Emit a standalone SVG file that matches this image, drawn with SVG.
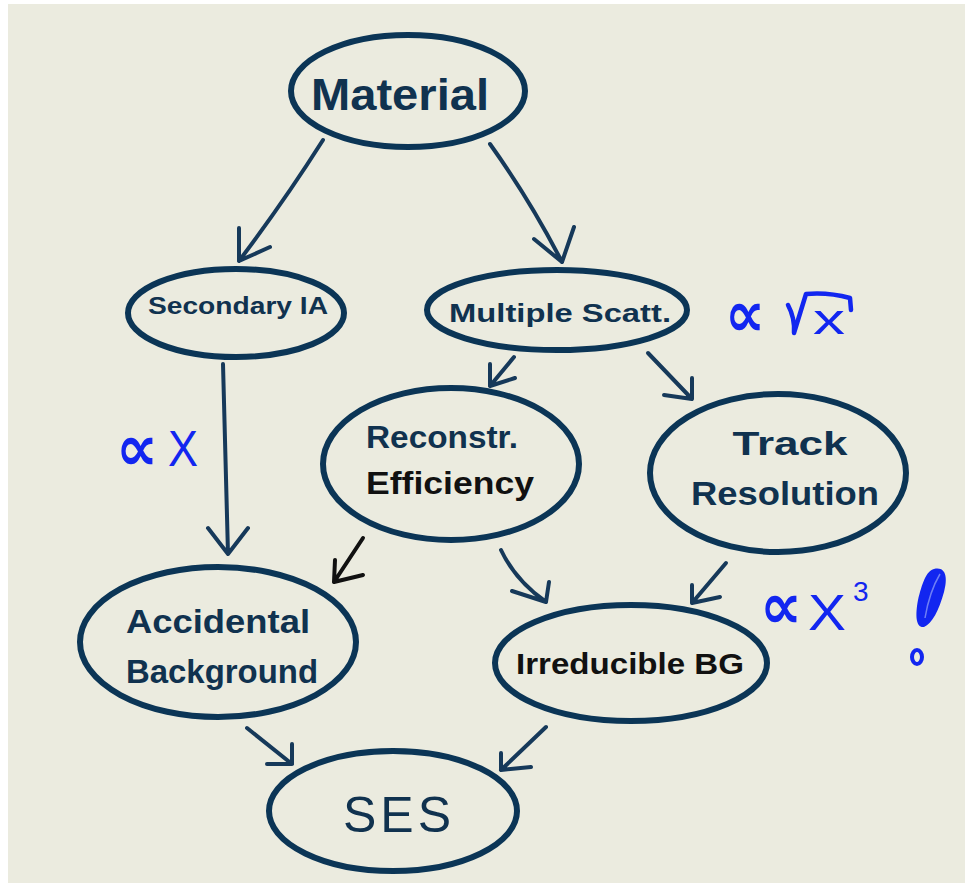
<svg xmlns="http://www.w3.org/2000/svg" width="973" height="891" viewBox="0 0 973 891">
<style>
.node{fill:none;stroke:#0b3556;stroke-width:6}
.lbl{font-family:"Liberation Sans","DejaVu Sans",sans-serif;fill:#10324f;text-anchor:middle;font-weight:bold}
.blk{fill:#111}
.edge{fill:none;stroke:#16395a;stroke-width:4;stroke-linecap:round;stroke-linejoin:round}
.edge.k{stroke:#111}
.note{font-family:"DejaVu Sans","Liberation Sans",sans-serif;fill:#1226f0;font-weight:bold}
.var{font-family:"Liberation Sans","DejaVu Sans",sans-serif;fill:#1226f0;font-weight:normal}
.ink{fill:none;stroke:#1226f0;stroke-width:4.5;stroke-linecap:round;stroke-linejoin:round}
</style>
<rect x="0" y="0" width="973" height="891" fill="#ffffff"/>
<rect x="8" y="4" width="957" height="879" fill="#ebebdf"/>

<g id="connectors">
  <path class="edge" d="M323,140 Q285,200 239,261 M239,228 L239,261 L270,247"/>
  <path class="edge" d="M490,144 Q530,200 562,262 M534,239 L562,262 L574,227"/>
  <path class="edge" d="M223,364 L228,554 M208,528 L228,554 L248,528"/>
  <path class="edge" d="M514,357 L490,386 M490,364 L490,386 L515,378"/>
  <path class="edge" d="M648,353 L692,399 M664,395 L692,399 L692,378"/>
  <path class="edge k" d="M363,538 L334,582 M335,560 L334,582 L363,575"/>
  <path class="edge" d="M501,550 Q515,580 546,602 M512,591 L546,602 L549,582"/>
  <path class="edge" d="M726,563 L692,603 M692,585 L692,603 L720,597"/>
  <path class="edge" d="M247,728 L292,764 M267,764 L292,764 L292,744"/>
  <path class="edge" d="M546,727 L501,770 M501,753 L501,770 L531,767"/>
</g>

<g id="material">
  <ellipse class="node" cx="408" cy="91" rx="117" ry="56"/>
  <text class="lbl" x="400" y="110" font-size="44" textLength="178" lengthAdjust="spacingAndGlyphs">Material</text>
</g>
<g id="secondary">
  <ellipse class="node" cx="236" cy="313" rx="108" ry="44"/>
  <text class="lbl" x="238" y="314" font-size="24" textLength="180" lengthAdjust="spacingAndGlyphs">Secondary IA</text>
</g>
<g id="multiple">
  <ellipse class="node" cx="557" cy="310" rx="130" ry="40"/>
  <text class="lbl" x="560" y="322" font-size="25" textLength="222" lengthAdjust="spacingAndGlyphs">Multiple Scatt.</text>
</g>
<g id="reconstr">
  <ellipse class="node" cx="451" cy="464" rx="128" ry="76"/>
  <text class="lbl" x="442" y="448" font-size="32" textLength="152" lengthAdjust="spacingAndGlyphs">Reconstr.</text>
  <text class="lbl blk" x="450" y="494" font-size="32" textLength="168" lengthAdjust="spacingAndGlyphs">Efficiency</text>
</g>
<g id="track">
  <ellipse class="node" cx="778" cy="473" rx="128" ry="79"/>
  <text class="lbl" x="790" y="455" font-size="34" textLength="115" lengthAdjust="spacingAndGlyphs">Track</text>
  <text class="lbl" x="785" y="505" font-size="34" textLength="188" lengthAdjust="spacingAndGlyphs">Resolution</text>
</g>
<g id="accidental">
  <ellipse class="node" cx="218" cy="642" rx="138" ry="75"/>
  <text class="lbl" x="218" y="633" font-size="34" textLength="184" lengthAdjust="spacingAndGlyphs">Accidental</text>
  <text class="lbl" x="222" y="683" font-size="34" textLength="192" lengthAdjust="spacingAndGlyphs">Background</text>
</g>
<g id="irreducible">
  <ellipse class="node" cx="631" cy="663" rx="136" ry="58"/>
  <text class="lbl blk" x="630" y="674" font-size="30" textLength="228" lengthAdjust="spacingAndGlyphs">Irreducible BG</text>
</g>
<g id="ses">
  <ellipse class="node" cx="393" cy="811" rx="124" ry="60"/>
  <text class="lbl" x="397" y="832" font-size="50" style="font-weight:normal" textLength="108" lengthAdjust="spacing">SES</text>
</g>

<g id="notes">
  <text class="note" x="116" y="470" font-size="64" textLength="42" lengthAdjust="spacingAndGlyphs">∝</text>
  <text class="var" x="168" y="466" font-size="50" textLength="30" lengthAdjust="spacingAndGlyphs">X</text>
  <text class="note" x="725" y="336" font-size="64" textLength="40" lengthAdjust="spacingAndGlyphs">∝</text>
  <path class="ink" d="M788,305 Q795,318 794,333 L806,294 Q828,292 850,298 L851,310"/>
  <text class="var" x="813" y="334" font-size="42" textLength="32" lengthAdjust="spacingAndGlyphs">x</text>
  <text class="note" x="760" y="628" font-size="64" textLength="42" lengthAdjust="spacingAndGlyphs">∝</text>
  <text class="var" x="808" y="630" font-size="50" textLength="38" lengthAdjust="spacingAndGlyphs">X</text>
  <text class="var" x="853" y="601" font-size="28">3</text>
  <path d="M934,569 C946,566 948,578 944,592 C939,610 932,624 924,627 C916,628 915,616 918,600 C922,584 926,571 934,569 Z" fill="#1226f0"/>
  <path d="M925,618 C928,600 934,584 940,574" fill="none" stroke="#6f7ff5" stroke-width="1.5"/>
  <ellipse cx="917" cy="657" rx="5" ry="7" fill="none" stroke="#1226f0" stroke-width="4"/>
</g>
</svg>
